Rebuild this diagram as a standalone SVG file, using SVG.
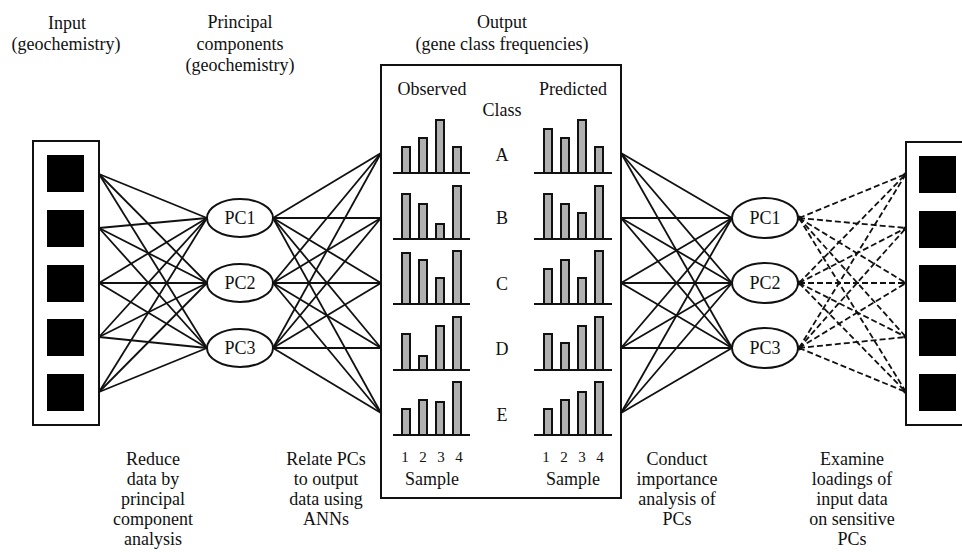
<svg xmlns="http://www.w3.org/2000/svg" width="962" height="552" viewBox="0 0 962 552">
<style>
text{font-family:"Liberation Serif","Times New Roman",serif;font-size:18px;fill:#111;text-anchor:middle}
.num{font-size:15px}
.box{fill:#fff;stroke:#111;stroke-width:2}
.sq{fill:#000}
.pc{fill:#fff;stroke:#111;stroke-width:2}
.bar{fill:#b0b0b0;stroke:#111;stroke-width:2}
.base{stroke:#111;stroke-width:2.2}
.c line{stroke:#111;stroke-width:1.8}
.d line{stroke:#111;stroke-width:1.8;stroke-dasharray:6 3}
.dot{fill:#111}
</style>
<rect width="962" height="552" fill="#fff"/>

<g id="labels-top">
<text x="67" y="29">Input</text>
<text x="66" y="50">(geochemistry)</text>
<text x="240" y="28">Principal</text>
<text x="240" y="50">components</text>
<text x="240" y="71">(geochemistry)</text>
<text x="502" y="28">Output</text>
<text x="502" y="50">(gene class frequencies)</text>
</g>

<g id="connectors">
<g class="c">
<line x1="99" y1="174" x2="207" y2="218"/><line x1="99" y1="174" x2="207" y2="283"/><line x1="99" y1="174" x2="207" y2="348"/>
<line x1="99" y1="228" x2="207" y2="218"/><line x1="99" y1="228" x2="207" y2="283"/><line x1="99" y1="228" x2="207" y2="348"/>
<line x1="99" y1="283" x2="207" y2="218"/><line x1="99" y1="283" x2="207" y2="283"/><line x1="99" y1="283" x2="207" y2="348"/>
<line x1="99" y1="337" x2="207" y2="218"/><line x1="99" y1="337" x2="207" y2="283"/><line x1="99" y1="337" x2="207" y2="348"/>
<line x1="99" y1="392" x2="207" y2="218"/><line x1="99" y1="392" x2="207" y2="283"/><line x1="99" y1="392" x2="207" y2="348"/>

<line x1="273" y1="218" x2="381" y2="153"/><line x1="273" y1="218" x2="381" y2="218"/><line x1="273" y1="218" x2="381" y2="283"/><line x1="273" y1="218" x2="381" y2="348"/><line x1="273" y1="218" x2="381" y2="413"/>
<line x1="273" y1="283" x2="381" y2="153"/><line x1="273" y1="283" x2="381" y2="218"/><line x1="273" y1="283" x2="381" y2="283"/><line x1="273" y1="283" x2="381" y2="348"/><line x1="273" y1="283" x2="381" y2="413"/>
<line x1="273" y1="348" x2="381" y2="153"/><line x1="273" y1="348" x2="381" y2="218"/><line x1="273" y1="348" x2="381" y2="283"/><line x1="273" y1="348" x2="381" y2="348"/><line x1="273" y1="348" x2="381" y2="413"/>

<line x1="621" y1="153" x2="732" y2="218"/><line x1="621" y1="153" x2="732" y2="283"/><line x1="621" y1="153" x2="732" y2="348"/>
<line x1="621" y1="218" x2="732" y2="218"/><line x1="621" y1="218" x2="732" y2="283"/><line x1="621" y1="218" x2="732" y2="348"/>
<line x1="621" y1="283" x2="732" y2="218"/><line x1="621" y1="283" x2="732" y2="283"/><line x1="621" y1="283" x2="732" y2="348"/>
<line x1="621" y1="348" x2="732" y2="218"/><line x1="621" y1="348" x2="732" y2="283"/><line x1="621" y1="348" x2="732" y2="348"/>
<line x1="621" y1="413" x2="732" y2="218"/><line x1="621" y1="413" x2="732" y2="283"/><line x1="621" y1="413" x2="732" y2="348"/>
</g>
<g class="d">
<line x1="799" y1="218" x2="906" y2="174"/><line x1="799" y1="218" x2="906" y2="228"/><line x1="799" y1="218" x2="906" y2="283"/><line x1="799" y1="218" x2="906" y2="337"/><line x1="799" y1="218" x2="906" y2="392"/>
<line x1="799" y1="283" x2="906" y2="174"/><line x1="799" y1="283" x2="906" y2="228"/><line x1="799" y1="283" x2="906" y2="283"/><line x1="799" y1="283" x2="906" y2="337"/><line x1="799" y1="283" x2="906" y2="392"/>
<line x1="799" y1="348" x2="906" y2="174"/><line x1="799" y1="348" x2="906" y2="228"/><line x1="799" y1="348" x2="906" y2="283"/><line x1="799" y1="348" x2="906" y2="337"/><line x1="799" y1="348" x2="906" y2="392"/>
</g>
<g class="dot">
<circle cx="799" cy="218" r="2.5"/><circle cx="799" cy="283" r="2.5"/><circle cx="799" cy="348" r="2.5"/>
<circle cx="905" cy="174" r="1.6"/><circle cx="905" cy="228" r="1.6"/><circle cx="905" cy="283" r="1.6"/><circle cx="905" cy="337" r="1.6"/><circle cx="905" cy="392" r="1.6"/>
</g>
</g>

<g id="input-left">
<rect class="box" x="33" y="141" width="66" height="284"/>
<rect class="sq" x="47" y="155" width="37" height="37"/>
<rect class="sq" x="47" y="210" width="37" height="37"/>
<rect class="sq" x="47" y="265" width="37" height="37"/>
<rect class="sq" x="47" y="319" width="37" height="37"/>
<rect class="sq" x="47" y="374" width="37" height="37"/>
</g>

<g id="pc-left">
<g id="pcl1"><ellipse class="pc" cx="240" cy="218" rx="33" ry="19"/><text x="240" y="224">PC1</text></g>
<g id="pcl2"><ellipse class="pc" cx="240" cy="283" rx="33" ry="19"/><text x="240" y="289">PC2</text></g>
<g id="pcl3"><ellipse class="pc" cx="240" cy="348" rx="33" ry="19"/><text x="240" y="354">PC3</text></g>
</g>

<g id="output-box">
<rect class="box" x="381" y="65" width="240" height="433"/>
<text x="432" y="95">Observed</text>
<text x="573" y="95">Predicted</text>
<text x="502" y="116">Class</text>
<text x="502" y="161">A</text>
<text x="502" y="224">B</text>
<text x="502" y="290">C</text>
<text x="502" y="355">D</text>
<text x="502" y="421">E</text>
<!-- A -->
<rect class="bar" x="402" y="147" width="8" height="26"/><rect class="bar" x="419" y="138" width="8" height="35"/><rect class="bar" x="436" y="120" width="8" height="53"/><rect class="bar" x="453" y="147" width="8" height="26"/>
<rect class="bar" x="544" y="129" width="8" height="44"/><rect class="bar" x="561" y="138" width="8" height="35"/><rect class="bar" x="578" y="120" width="8" height="53"/><rect class="bar" x="595" y="147" width="8" height="26"/>
<!-- B -->
<rect class="bar" x="402" y="194" width="8" height="45"/><rect class="bar" x="419" y="204" width="8" height="35"/><rect class="bar" x="436" y="224" width="8" height="15"/><rect class="bar" x="453" y="186" width="8" height="53"/>
<rect class="bar" x="544" y="194" width="8" height="45"/><rect class="bar" x="561" y="204" width="8" height="35"/><rect class="bar" x="578" y="213" width="8" height="26"/><rect class="bar" x="595" y="186" width="8" height="53"/>
<!-- C -->
<rect class="bar" x="402" y="253" width="8" height="51"/><rect class="bar" x="419" y="260" width="8" height="44"/><rect class="bar" x="436" y="278" width="8" height="26"/><rect class="bar" x="453" y="251" width="8" height="53"/>
<rect class="bar" x="544" y="269" width="8" height="35"/><rect class="bar" x="561" y="260" width="8" height="44"/><rect class="bar" x="578" y="278" width="8" height="26"/><rect class="bar" x="595" y="251" width="8" height="53"/>
<!-- D -->
<rect class="bar" x="402" y="334" width="8" height="36"/><rect class="bar" x="419" y="356" width="8" height="14"/><rect class="bar" x="436" y="326" width="8" height="44"/><rect class="bar" x="453" y="317" width="8" height="53"/>
<rect class="bar" x="544" y="334" width="8" height="36"/><rect class="bar" x="561" y="343" width="8" height="27"/><rect class="bar" x="578" y="326" width="8" height="44"/><rect class="bar" x="595" y="317" width="8" height="53"/>
<!-- E -->
<rect class="bar" x="402" y="409" width="8" height="26"/><rect class="bar" x="419" y="400" width="8" height="35"/><rect class="bar" x="436" y="402" width="8" height="33"/><rect class="bar" x="453" y="382" width="8" height="53"/>
<rect class="bar" x="544" y="409" width="8" height="26"/><rect class="bar" x="561" y="400" width="8" height="35"/><rect class="bar" x="578" y="392" width="8" height="43"/><rect class="bar" x="595" y="382" width="8" height="53"/>
<g class="base">
<line x1="393" y1="173" x2="470" y2="173"/><line x1="534" y1="173" x2="612" y2="173"/>
<line x1="393" y1="239" x2="470" y2="239"/><line x1="534" y1="239" x2="612" y2="239"/>
<line x1="393" y1="304" x2="470" y2="304"/><line x1="534" y1="304" x2="612" y2="304"/>
<line x1="393" y1="370" x2="470" y2="370"/><line x1="534" y1="370" x2="612" y2="370"/>
<line x1="393" y1="435" x2="470" y2="435"/><line x1="534" y1="435" x2="612" y2="435"/>
</g>
<text class="num" x="405" y="462">1</text><text class="num" x="423" y="462">2</text><text class="num" x="441" y="462">3</text><text class="num" x="459" y="462">4</text>
<text class="num" x="546" y="462">1</text><text class="num" x="564" y="462">2</text><text class="num" x="582" y="462">3</text><text class="num" x="600" y="462">4</text>
<text x="432" y="485">Sample</text>
<text x="573" y="485">Sample</text>
</g>

<g id="pc-right">
<g id="pcr1"><ellipse class="pc" cx="765" cy="218" rx="33" ry="20"/><text x="765" y="224">PC1</text></g>
<g id="pcr2"><ellipse class="pc" cx="765" cy="283" rx="33" ry="20"/><text x="765" y="289">PC2</text></g>
<g id="pcr3"><ellipse class="pc" cx="765" cy="348" rx="33" ry="20"/><text x="765" y="354">PC3</text></g>
</g>

<g id="input-right">
<rect class="box" x="906" y="142" width="70" height="283"/>
<rect class="sq" x="919" y="156" width="37" height="37"/>
<rect class="sq" x="919" y="211" width="37" height="37"/>
<rect class="sq" x="919" y="265" width="37" height="37"/>
<rect class="sq" x="919" y="319" width="37" height="37"/>
<rect class="sq" x="919" y="374" width="37" height="37"/>
</g>

<g id="labels-bottom">
<text x="153" y="465">Reduce</text><text x="153" y="485">data by</text><text x="153" y="505">principal</text><text x="153" y="525">component</text><text x="153" y="545">analysis</text>
<text x="326" y="465">Relate PCs</text><text x="326" y="485">to output</text><text x="326" y="505">data using</text><text x="326" y="525">ANNs</text>
<text x="677" y="465">Conduct</text><text x="677" y="485">importance</text><text x="677" y="505">analysis of</text><text x="677" y="525">PCs</text>
<text x="852" y="465">Examine</text><text x="852" y="485">loadings of</text><text x="852" y="505">input data</text><text x="852" y="525">on sensitive</text><text x="852" y="545">PCs</text>
</g>
</svg>
